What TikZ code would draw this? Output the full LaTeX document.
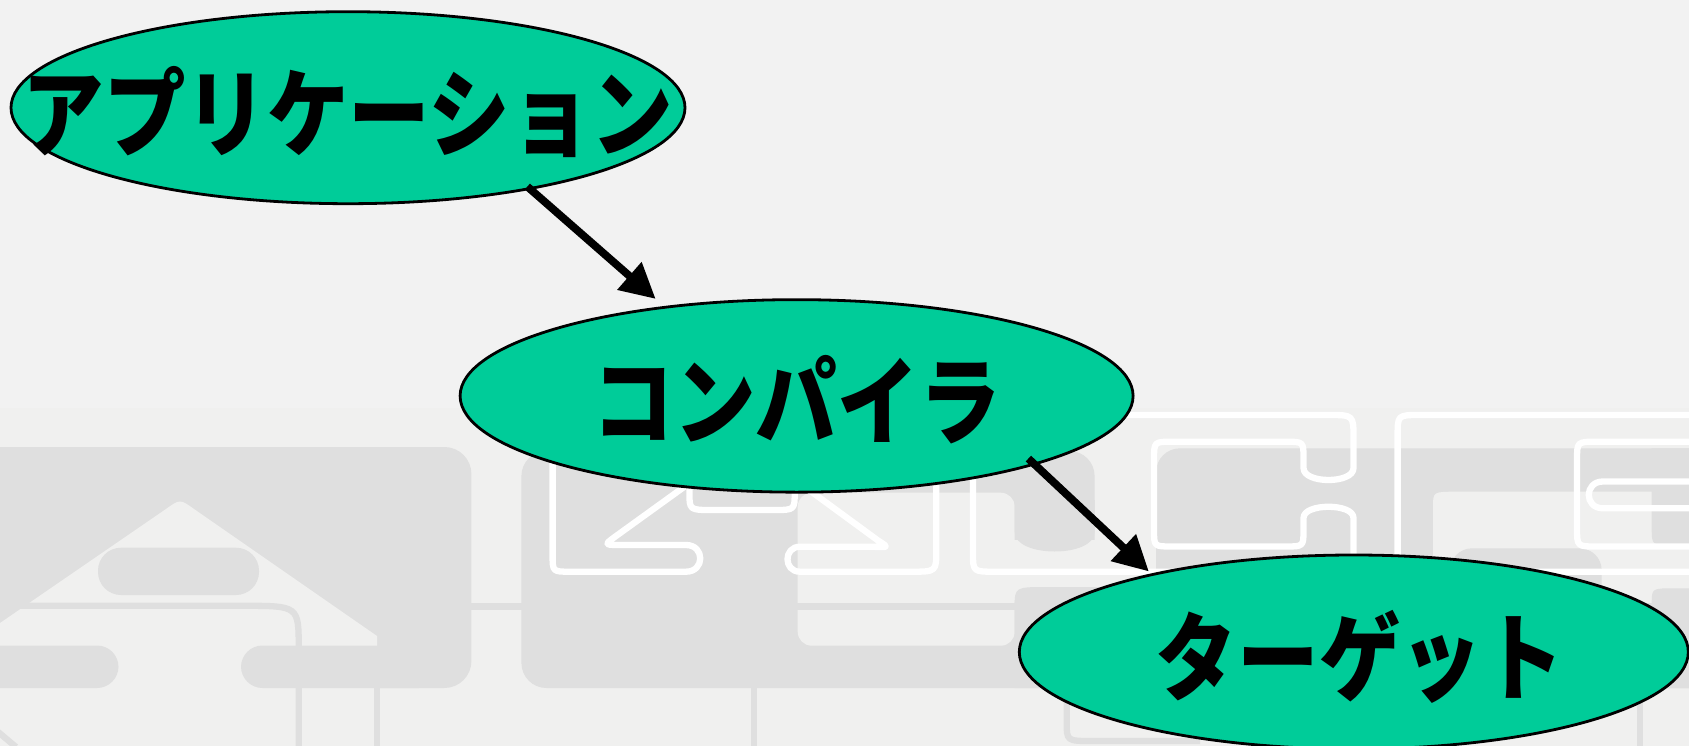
\documentclass[tikz,border=0pt]{standalone}
\usepackage{fontspec}
\usetikzlibrary{arrows.meta,shapes.geometric}
\newfontfamily\jpfont{Noto Sans CJK JP}[FakeStretch=0.85]
\definecolor{bgtop}{HTML}{F2F2F2}
\definecolor{bglow}{HTML}{F0F0EF}
\definecolor{gblock}{HTML}{DFDFDF}
\definecolor{nodegreen}{HTML}{00CC99}
\begin{document}
\begin{tikzpicture}[x=1pt,y=-1pt,
  ell/.style={ellipse, draw=black, line width=2.8pt, fill=nodegreen, inner sep=0pt, outer sep=0pt},
  lbl/.style={inner sep=0pt, font=\jpfont\bfseries\fontsize{96}{96}\selectfont},
  conn/.style={line width=7.8pt, -{Triangle[length=35pt,width=35pt]}},
  wline/.style={draw=white, line width=6.3pt, line join=round},
  gline/.style={draw=gblock, line width=6.3pt},
]
\path[use as bounding box] (0,0) rectangle (1689,746);
\clip (0,0) rectangle (1689,746);
% background
\fill[bgtop] (0,0) rectangle (1689,746);
\fill[bglow] (0,408) rectangle (1689,746);
% block 1
\fill[gblock, rounded corners=27pt] (-40,447) rectangle (471.4,688);
\fill[bglow] (-5,626.5) -- (166,509) .. controls (180,499) .. (194,509) -- (377,636) -- (377,700) -- (-5,700) -- cycle;
\fill[gblock, rounded corners=21.5pt] (-40,645.5) rectangle (118.5,688);
\fill[gblock, rounded corners=21.5pt] (241,645.5) rectangle (440,688);
\fill[gblock, rounded corners=23pt] (98,547.7) rectangle (259,595);
% block 2
\fill[gblock, rounded corners=25pt] (521.4,451) rectangle (1094.6,688);
\fill[bglow, rounded corners=14pt] (797.7,492.7) rectangle (1014.7,645.7);
\fill[bglow] (1010,540) rectangle (1100,600);
\fill[gblock] (1014.7,500) -- (1014.7,532) .. controls (1014.7,558) and (1094.6,558) .. (1094.6,532) -- (1094.6,500) -- cycle;
\fill[gblock] (1014.7,688) -- (1014.7,607) .. controls (1014.7,587) .. (1048,587) -- (1165,587) -- (1165,688) -- cycle;
% block 3
\fill[gblock, rounded corners=24pt] (1156,448.3) rectangle (1760,688.3);
\fill[bglow] (1433,760) -- (1433,507) .. controls (1433,491.7) .. (1457,491.7) -- (1760,491.7) -- (1760,760) -- cycle;
\fill[gblock] (1651.7,448.3) -- (1651.7,527) .. controls (1651.7,545) .. (1670,545) -- (1760,545) -- (1760,448.3) -- cycle;
\fill[gblock] (1651.7,688.3) -- (1651.7,604) .. controls (1651.7,588.3) .. (1674,588.3) -- (1760,588.3) -- (1760,688.3) -- cycle;
\fill[gblock, rounded corners=22pt] (1450,548.3) rectangle (1601.7,660);
% grey strokes
\draw[gline] (0,605.8) -- (243,605.8) .. controls (298.7,605.8) .. (298.7,648) -- (298.7,750);
\draw[gline] (377,646) -- (377,750);
\draw[gline] (754,688) -- (754,750);
\draw[gline] (1640,688) -- (1640,750);
\draw[gline] (1066.7,688) -- (1066.7,722) .. controls (1066.7,741) .. (1092,741) -- (1200,741);
\draw[gline] (-3,731) -- (16,747);
\draw[gline] (471,606.5) -- (1700,606.5);
% white outlines
\draw[wline] (552.6,440) -- (552.6,555) .. controls (552.6,571.7) .. (570,571.7) -- (686,571.7) .. controls (705,571.7) and (705,545) .. (686,545) -- (624,545) .. controls (604,545) .. (614,537.5) -- (702,474);
\draw[wline] (689.4,470) -- (689.4,492) .. controls (689.4,510) .. (712,510) -- (774,510) .. controls (794.7,510) .. (794.7,492) -- (794.7,470);
\draw[wline] (790,476) -- (878,540.5) .. controls (889,547.5) .. (872,546.7) -- (800,546.7) .. controls (783.3,546.7) and (783.3,571.7) .. (800,571.7) -- (911,571.7) .. controls (936.3,571.7) .. (936.3,550) -- (936.3,460);
\draw[wline] (973,470) -- (973,553) .. controls (973,571.7) .. (995,571.7) -- (1700,571.7);
\draw[wline] (990,415) -- (1328,415) .. controls (1353.5,415) .. (1353.5,438) -- (1353.5,468) .. controls (1353.5,484) and (1303.5,484) .. (1303.5,468) -- (1303.5,458) .. controls (1303.5,441.7) .. (1285,441.7) -- (1172,441.7) .. controls (1154,441.7) .. (1154,460) -- (1154,530) .. controls (1154,546.5) .. (1172,546.5) -- (1285,546.5) .. controls (1303.5,546.5) .. (1303.5,530) -- (1303.5,518) .. controls (1303.5,503) and (1353.5,503) .. (1353.5,518) -- (1353.5,571.7);
\draw[wline] (1397.6,600) -- (1397.6,436) .. controls (1397.6,415) .. (1420,415) -- (1700,415);
\draw[wline] (1700,441.7) -- (1597,441.7) .. controls (1577,441.7) .. (1577,460) -- (1577,528) .. controls (1577,546.5) .. (1597,546.5) -- (1700,546.5);
\draw[wline] (1700,481.5) -- (1603,481.5) .. controls (1584,481.5) and (1584,508.3) .. (1603,508.3) -- (1700,508.3);
% nodes
\node[ell, minimum width=674pt, minimum height=192pt] (app) at (348,107.7) {};
\node[ell, minimum width=673pt, minimum height=192.5pt] (comp) at (796.6,395.9) {};
\node[ell, minimum width=669pt, minimum height=194pt] (tgt) at (1353.8,652) {};
\node[lbl] (appt) at ([yshift=-4pt]app.center) {アプリケーション};
\node[lbl] (compt) at ([yshift=-4pt]comp.center) {コンパイラ};
\node[lbl] (tgtt) at ([xshift=6pt,yshift=-5pt]tgt.center) {ターゲット};
% connectors
\draw[conn, shorten <=-3pt, shorten >=12.7pt] (app.-24.9) -- (comp.146.8);
\draw[conn, shorten <=-8pt, shorten >=4.6pt] (comp.-16.9) -- (tgt.159.2);
\end{tikzpicture}
\end{document}
